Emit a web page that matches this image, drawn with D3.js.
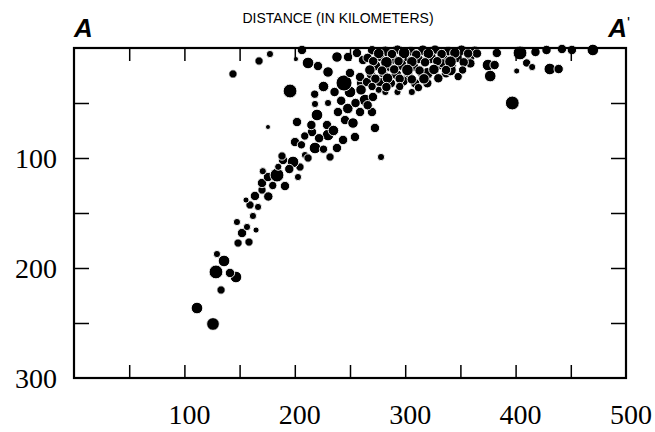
<!DOCTYPE html>
<html>
<head>
<meta charset="utf-8">
<script src="https://cdn.jsdelivr.net/npm/d3@7"></script>
<style>
	body { margin: 0; background: #fff; }
	svg { display: block; }
</style>
</head>
<body>
<svg id="chart" width="655" height="432"></svg>
<script>
// epicentre section A - A', distance along section (km), depth (km), magnitude
var distance = [
	// lower part of the slab
	111.4, 125.9, 133.2, 146.7, 141.3, 128.6, 135.9, 129.5, 148.6, 158.5,
	152.2, 156.7, 147.6, 159.4, 155.8, 163.9, 166.7, 162.1, 170.3, 164.9,
	// middle
	170.3, 175.7, 183.9, 191.1, 202.9, 204.7, 198.4, 189.3, 188.4, 209.2,
	218.3, 200.2, 206.0, 215.6, 209.0, 202.0, 220.1, 175.7, 218.3, 230.1,
	239.1, 231.9, 238.2, 243.7, 230.1, 229.2, 245.5, 252.7, 254.5, 259.1,
	269.9, 272.6, 278.1, 263.6, 261.0, 250.0, 244.6, 195.7, 144.0, 167.6,
	177.5, 201.1, 206.5, 212.0, 221.0, 230.1, 238.2, 248.2, 256.3, 261.8,
	250.0, 259.1, 265.4, 270.8,
	215, 222, 226, 235, 242, 248, 236, 226, 218, 255, 266, 260, 212, 195, 180, 185, 176, 171,
	// shallow cluster
	270, 282, 293, 305, 316, 327, 339, 351, 363,
	266, 277, 289, 300, 312, 323, 335, 347, 359,
	273, 285, 296, 308, 332, 342,
	269, 280, 292, 303, 315, 337,
	277, 287, 298, 309,
	293, 276, 282, 306, 320, 320, 334, 341, 348, 359, 365,
	276, 288, 299, 310, 321, 333, 345, 357,
	271, 283, 294, 306, 318, 329, 341, 353,
	268, 279, 290, 302, 313, 326, 337, 352,
	273, 284, 295, 306, 317, 330,
	270, 283, 295, 312,
	// right side
	375, 381, 377, 383, 404, 410, 415, 401, 418, 428, 442, 451, 470, 431, 439, 397
];
var depth = [
	236.4, 250.9, 220.0, 208.2, 204.5, 203.6, 193.6, 187.3, 177.3, 176.4,
	168.2, 162.7, 158.2, 142.7, 138.2, 134.5, 144.5, 152.7, 129.1, 165.5,
	122.7, 117.3, 115.5, 125.5, 117.3, 108.2, 103.6, 101.8, 98.2, 97.3,
	90.9, 85.5, 88.0, 76.4, 80.0, 67.3, 60.9, 71.8, 50.9, 50.0,
	58.2, 99.1, 90.9, 83.6, 79.1, 70.0, 65.5, 68.2, 80.9, 58.2,
	58.2, 72.7, 99.1, 47.3, 31.8, 40.0, 31.8, 39.1, 23.6, 11.8,
	5.5, 10.0, 1.8, 13.6, 16.4, 21.8, 8.2, 8.2, 4.5, 10.9,
	22.7, 26.4, 30.9, 44.5,
	70, 82, 92, 75, 48, 55, 40, 35, 42, 50, 52, 38, 100, 110, 125, 108, 135, 112,
	2, 3, 1.5, 3, 2, 1.5, 3, 2, 2.5,
	9, 8, 10, 8, 10, 9, 10, 9, 8,
	16, 17, 15, 17, 15, 16,
	24, 23, 24, 25, 23, 23,
	31, 32, 30, 32,
	40, 38, 40, 40, 23, 32, 14, 20, 26, 14, 5,
	5, 5.5, 4.5, 6, 5, 5.5, 4.5, 5,
	12, 13, 12, 12.5, 13, 12, 12.5, 13,
	20, 20.5, 19.5, 20, 20.5, 19.5, 20, 20,
	28, 27.5, 28, 28.5, 28, 27.5,
	35, 35.5, 35, 36,
	15.5, 15.5, 25.5, 4.5, 4.5, 13.6, 17.3, 20.9, 3.6, 1.8, 0.9, 1.8, 1.8, 19.1, 19.1, 50
];
var magnitude = [
	4.8, 5.1, 3.9, 4.8, 4.2, 5.4, 4.8, 3.6, 3.9, 3.9,
	4.2, 3.6, 3.6, 3.9, 3.3, 4.2, 3.6, 3.6, 3.9, 3.3,
	4.2, 4.2, 5.4, 4.2, 3.6, 3.9, 4.8, 4.2, 3.9, 3.6,
	4.8, 4.2, 3.9, 4.2, 3.9, 4.2, 4.8, 3.0, 3.6, 3.6,
	4.2, 3.9, 4.2, 4.2, 4.8, 4.2, 4.2, 4.5, 4.2, 4.2,
	4.2, 4.2, 3.6, 4.8, 4.8, 4.8, 6.0, 5.4, 3.9, 3.9,
	3.6, 3.0, 4.2, 4.8, 4.2, 4.5, 4.5, 4.2, 4.2, 4.2,
	4.2, 4.2, 4.2, 4.2,
	4.2, 4.2, 3.9, 4.5, 4.2, 4.5, 4.2, 4.5, 3.9, 4.2, 4.2, 4.5, 3.9, 4.2, 3.9, 3.6, 4.2, 3.6,
	4.2, 4.5, 4.2, 4.2, 4.5, 4.2, 4.2, 4.5, 4.2,
	4.2, 4.2, 4.5, 4.2, 4.2, 4.8, 4.2, 4.2, 4.2,
	4.5, 4.2, 4.8, 4.2, 4.5, 4.2,
	4.2, 4.2, 4.5, 4.2, 4.2, 4.2,
	4.2, 4.2, 4.5, 4.2,
	3.6, 3.6, 3.6, 3.6, 4.8, 4.2, 4.2, 4.8, 3.9, 4.2, 4.2,
	4.5, 4.2, 4.8, 4.2, 4.5, 4.2, 4.5, 4.2,
	4.2, 4.8, 4.2, 4.5, 4.2, 4.2, 4.8, 4.2,
	4.5, 4.2, 4.2, 4.8, 4.2, 4.5, 4.2, 3.9,
	4.2, 4.5, 4.2, 4.2, 4.5, 4.2,
	3.9, 4.2, 3.9, 3.9,
	4.8, 4.2, 4.8, 4.2, 5.4, 3.9, 3.6, 3.3, 4.2, 4.2, 4.2, 4.2, 4.8, 4.8, 4.2, 5.4
];

var xTicks = [50, 100, 150, 200, 250, 300, 350, 400, 450];
var yTicks = [50, 100, 150, 200, 250];
var xTickLabels = [100, 200, 300, 400, 500];
var yTickLabels = [100, 200, 300];

var svg = d3.select('#chart');

var x = d3.scaleLinear().domain([0, 500]).range([74, 626]);
var y = d3.scaleLinear().domain([0, 300]).range([48, 378]);
var r = d3.scaleLinear().domain([3, 6]).range([2.5, 8]);

// points
var quakes = distance.map(function (d, i) {
	return { dist: d, depth: depth[i], mag: magnitude[i] };
});

svg.append('g')
	.selectAll('circle')
	.data(quakes)
	.enter()
	.append('circle')
	.attr('cx', function (d) { return x(d.dist); })
	.attr('cy', function (d) { return y(d.depth); })
	.attr('r', function (d) { return r(d.mag); })
	.attr('fill', '#000')
	.attr('stroke', '#fff')
	.attr('stroke-width', 0.9);

// ticks, all pointing inward
function tickStyle(g) {
	g.select('.domain').remove();
	g.selectAll('line').attr('stroke', '#000').attr('stroke-width', 1.5);
	g.selectAll('text').remove();
}

svg.append('g')
	.attr('transform', 'translate(0,378)')
	.call(d3.axisBottom(x).tickValues(xTicks).tickSize(-13))
	.call(tickStyle);

svg.append('g')
	.attr('transform', 'translate(0,48)')
	.call(d3.axisTop(x).tickValues(xTicks).tickSize(-13))
	.call(tickStyle);

svg.append('g')
	.attr('transform', 'translate(74,0)')
	.call(d3.axisLeft(y).tickValues(yTicks).tickSize(-15))
	.call(tickStyle);

svg.append('g')
	.attr('transform', 'translate(626,0)')
	.call(d3.axisRight(y).tickValues(yTicks).tickSize(-15))
	.call(tickStyle);

// frame
svg.append('rect')
	.attr('x', x(0))
	.attr('y', y(0))
	.attr('width', x(500) - x(0))
	.attr('height', y(300) - y(0))
	.attr('fill', 'none')
	.attr('stroke', '#000')
	.attr('stroke-width', 2.2);

// tick labels
svg.append('g')
	.selectAll('text')
	.data(xTickLabels)
	.enter()
	.append('text')
	.attr('x', function (d) { return x(d) + 5; })
	.attr('y', 424)
	.attr('text-anchor', 'middle')
	.attr('font-family', '"Liberation Serif", serif')
	.attr('font-size', 28)
	.attr('fill', '#000')
	.text(function (d) { return d; });

svg.append('g')
	.selectAll('text')
	.data(yTickLabels)
	.enter()
	.append('text')
	.attr('x', 57)
	.attr('y', function (d) { return y(d); })
	.attr('dy', '0.34em')
	.attr('text-anchor', 'end')
	.attr('font-family', '"Liberation Serif", serif')
	.attr('font-size', 28)
	.attr('fill', '#000')
	.text(function (d) { return d; });

// title and section ends
svg.append('text')
	.attr('x', 338)
	.attr('y', 23)
	.attr('text-anchor', 'middle')
	.attr('font-family', '"Liberation Sans", Arial, sans-serif')
	.attr('font-size', 14)
	.attr('fill', '#000')
	.text('DISTANCE (IN KILOMETERS)');

svg.append('text')
	.attr('x', 74)
	.attr('y', 37)
	.attr('font-family', '"Liberation Sans", Arial, sans-serif')
	.attr('font-size', 26)
	.attr('font-weight', 'bold')
	.attr('font-style', 'italic')
	.attr('fill', '#000')
	.text('A');

var aEnd = svg.append('text')
	.attr('x', 630)
	.attr('y', 37)
	.attr('text-anchor', 'end')
	.attr('font-family', '"Liberation Sans", Arial, sans-serif')
	.attr('font-size', 26)
	.attr('font-weight', 'bold')
	.attr('font-style', 'italic')
	.attr('fill', '#000');
aEnd.append('tspan').text('A');
aEnd.append('tspan')
	.attr('font-size', 16)
	.attr('font-style', 'normal')
	.attr('font-weight', 'normal')
	.attr('dy', -8)
	.text('\'');
</script>
</body>
</html>
